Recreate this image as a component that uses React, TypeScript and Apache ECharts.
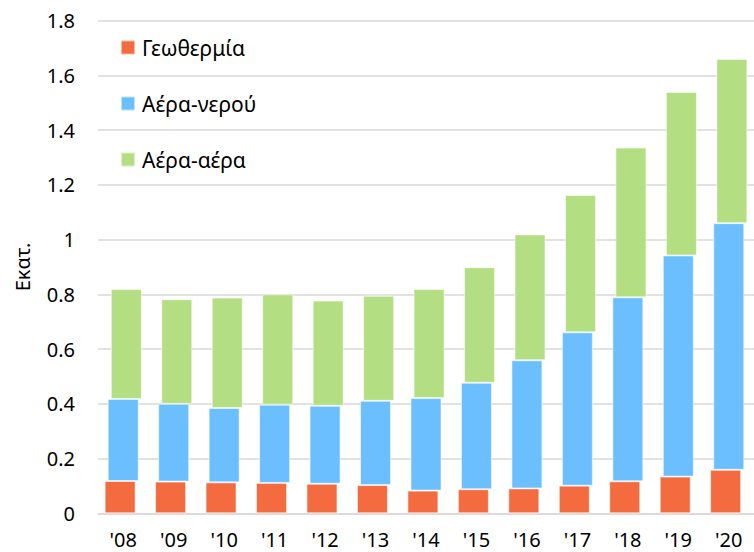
import React, { useEffect, useRef } from "react";
import * as echarts from "echarts";

const categories = ["'08", "'09", "'10", "'11", "'12", "'13", "'14", "'15", "'16", "'17", "'18", "'19", "'20"];
const geothermal = [0.118, 0.116, 0.113, 0.111, 0.108, 0.103, 0.083, 0.088, 0.091, 0.101, 0.117, 0.134, 0.159];
const airWater = [0.300, 0.284, 0.272, 0.286, 0.285, 0.308, 0.338, 0.389, 0.468, 0.560, 0.672, 0.808, 0.901];
const airAir = [0.401, 0.382, 0.403, 0.403, 0.384, 0.384, 0.398, 0.422, 0.460, 0.502, 0.547, 0.597, 0.600];
const yTicks = [0, 0.2, 0.4, 0.6, 0.8, 1, 1.2, 1.4, 1.6, 1.8];

const names = ["Γεωθερμία", "Αέρα-νερού", "Αέρα-αέρα"];
const colors = ["#F46B3F", "#6BBFFF", "#B3DE82"];
const FONT = "'Noto Sans', 'DejaVu Sans', sans-serif";

export default function App() {
  const ref = useRef<HTMLDivElement>(null);
  useEffect(() => {
    if (!ref.current) return;
    const chart = echarts.init(ref.current, null, { renderer: "svg" });
    const border = { borderColor: "rgba(255,255,255,0.55)", borderWidth: 1 };
    const hidden = { color: "transparent" };
    const common = { type: "bar", barWidth: 31, barGap: "-90%", silent: true };
    chart.setOption({
      animation: false,
      textStyle: { fontFamily: FONT },
      legend: {
        data: names,
        orient: "vertical",
        left: 115,
        top: 32,
        itemWidth: 14,
        itemHeight: 14,
        itemGap: 35,
        icon: "rect",
        textStyle: { fontSize: 21, lineHeight: 21, color: "#000", fontFamily: FONT, padding: [0, 0, 0, 2] },
      },
      grid: { left: 98, right: -3, top: 20.6, bottom: 38.7, containLabel: false },
      xAxis: {
        type: "category",
        data: categories,
        axisLine: { show: true, lineStyle: { color: "#d9d9d9", width: 1.5 } },
        axisTick: { show: false },
        axisLabel: { fontSize: 20, lineHeight: 20, color: "#000", margin: 16, fontFamily: FONT },
      },
      yAxis: {
        type: "value",
        min: 0,
        max: yTicks[yTicks.length - 1],
        interval: 0.2,
        name: "Εκατ.",
        nameLocation: "middle",
        nameGap: 66,
        nameTextStyle: { fontSize: 20, color: "#000", fontFamily: FONT },
        axisLine: { show: false },
        axisTick: { show: false },
        axisLabel: {
          fontSize: 20,
          color: "#000",
          margin: 23,
          fontFamily: FONT,
          formatter: (v: number) => String(Math.round(v * 10) / 10),
        },
        splitLine: { lineStyle: { color: "#d9d9d9", width: 1.5 } },
      },
      series: [
        { ...common, name: names[0], stack: "a", data: geothermal, itemStyle: { color: colors[0], ...border } },
        { ...common, name: "_b0", stack: "b", data: geothermal, itemStyle: hidden },
        { ...common, name: names[1], stack: "b", data: airWater, itemStyle: { color: colors[1], ...border } },
        { ...common, name: "_c0", stack: "c", data: geothermal, itemStyle: hidden },
        { ...common, name: "_c1", stack: "c", data: airWater, itemStyle: hidden },
        { ...common, name: names[2], stack: "c", data: airAir, itemStyle: { color: colors[2], ...border } },
      ],
    });
    return () => chart.dispose();
  }, []);
  return <div ref={ref} style={{ width: 754, height: 552, position: "absolute", left: 0, top: 0 }} />;
}
